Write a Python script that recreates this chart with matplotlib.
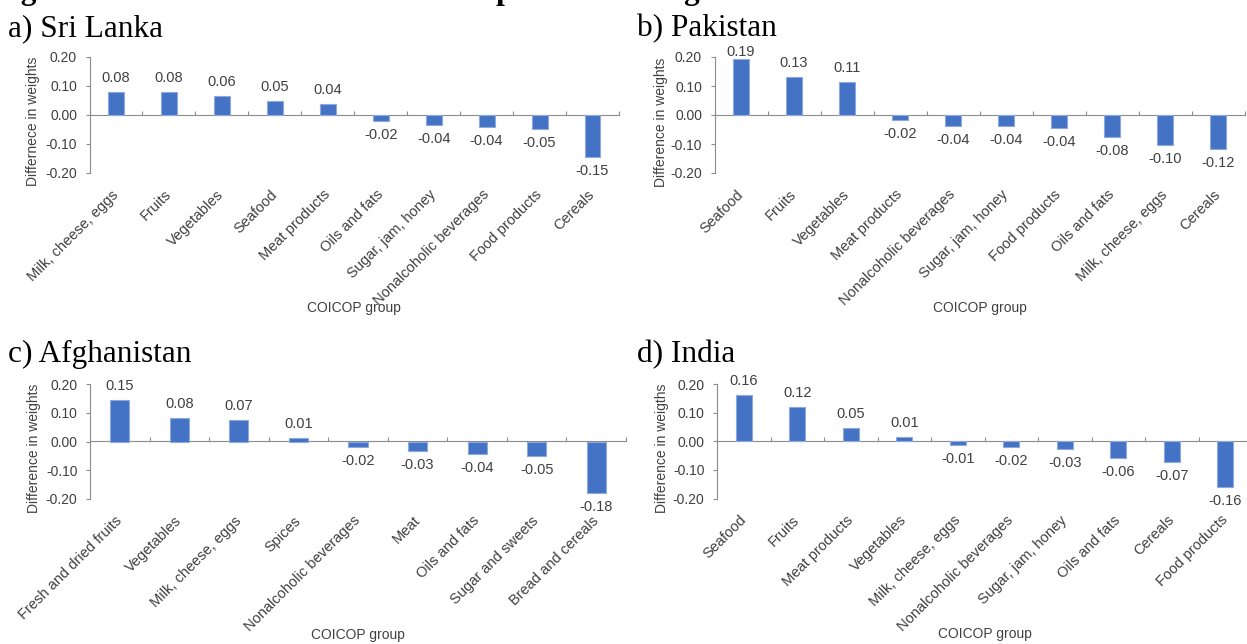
import matplotlib
matplotlib.use('Agg')
import matplotlib.pyplot as plt
from matplotlib.ticker import MultipleLocator, FormatStrFormatter

plt.rcParams['font.family'] = ['Liberation Sans', 'DejaVu Sans']

# a) Sri Lanka
lk_groups = ['Milk, cheese, eggs', 'Fruits', 'Vegetables', 'Seafood', 'Meat products',
             'Oils and fats', 'Sugar, jam, honey', 'Nonalcoholic beverages', 'Food products', 'Cereals']
lk_diff = [0.077, 0.077, 0.063, 0.046, 0.036, -0.020, -0.036, -0.043, -0.049, -0.146]

# b) Pakistan
pk_groups = ['Seafood', 'Fruits', 'Vegetables', 'Meat products', 'Nonalcoholic beverages',
             'Sugar, jam, honey', 'Food products', 'Oils and fats', 'Milk, cheese, eggs', 'Cereals']
pk_diff = [0.194, 0.131, 0.113, -0.016, -0.038, -0.038, -0.044, -0.076, -0.103, -0.116]

# c) Afghanistan
af_groups = ['Fresh and dried fruits', 'Vegetables', 'Milk, cheese, eggs', 'Spices',
             'Nonalcoholic beverages', 'Meat', 'Oils and fats', 'Sugar and sweets', 'Bread and cereals']
af_diff = [0.146, 0.083, 0.074, 0.012, -0.018, -0.032, -0.044, -0.051, -0.180]

# d) India
in_groups = ['Seafood', 'Fruits', 'Meat products', 'Vegetables', 'Milk, cheese, eggs',
             'Nonalcoholic beverages', 'Sugar, jam, honey', 'Oils and fats', 'Cereals', 'Food products']
in_diff = [0.163, 0.120, 0.047, 0.014, -0.012, -0.020, -0.026, -0.059, -0.074, -0.160]

BLUE = '#4472C4'
EDGE = '#8EA9DB'
GREY = '#8C8C8C'
TXT = '#404040'
FS = 10.5

W, H = 1247, 644
fig = plt.figure(figsize=(W / 100, H / 100), dpi=100)


def add_ax(left, top, right, bottom):
    return fig.add_axes([left / W, 1 - bottom / H, (right - left) / W, (bottom - top) / H])


def draw_panel(ax, groups, diff, ylabel, ylab_x, bar_w, xlab_y):
    n = len(groups)
    pos = list(range(n))
    ax.bar(pos, diff, width=bar_w, color=BLUE, edgecolor=EDGE, linewidth=0.8, zorder=3)
    for x, v in zip(pos, diff):
        # a label that would run past the top of the plot sits right on the bar
        pad = 0 if v > 0.18 else 5
        ax.annotate(f'{v:.2f}', (x, v), xytext=(0, pad if v >= 0 else -pad),
                    textcoords='offset points', ha='center',
                    va='bottom' if v >= 0 else 'top', fontsize=FS, color=TXT)

    ax.set_xlim(-0.5, n - 0.5)
    ax.set_ylim(-0.2, 0.2)
    for s in ['top', 'right', 'bottom']:
        ax.spines[s].set_visible(False)
    ax.spines['left'].set_color(GREY)
    ax.spines['left'].set_linewidth(0.8)

    ax.yaxis.set_major_locator(MultipleLocator(0.1))
    ax.yaxis.set_major_formatter(FormatStrFormatter('%.2f'))
    ax.tick_params(axis='y', length=3, width=0.8, color=GREY, pad=6, labelsize=10, labelcolor=TXT)

    ax.set_xticks(pos)
    ax.set_xticklabels(groups, rotation=45, ha='right', va='center', rotation_mode='anchor')
    ax.tick_params(axis='x', length=0, pad=14, labelsize=FS, labelcolor=TXT)

    # category axis drawn at zero, with ticks between the categories
    zero = ax.secondary_xaxis(0.5)
    zero.set_xticks([i - 0.5 for i in range(n + 1)])
    zero.set_xticklabels([])
    zero.tick_params(axis='x', direction='out', length=3, width=0.8, color=GREY)
    for s in ['top', 'bottom']:
        zero.spines[s].set_color(GREY)
        zero.spines[s].set_linewidth(0.8)

    ax.set_ylabel(ylabel, fontsize=10, color=TXT)
    ax.yaxis.set_label_coords(ylab_x, 0.44)
    ax.set_xlabel('COICOP group', fontsize=10, color=TXT)
    ax.xaxis.set_label_coords(0.5, xlab_y)


ax_a = add_ax(89.5, 56.5, 619, 173)
ax_b = add_ax(714.5, 57, 1244.5, 173)
ax_c = add_ax(90, 384, 626, 499)
ax_d = add_ax(717, 384, 1252, 498.5)

draw_panel(ax_a, lk_groups, lk_diff, 'Differnece in weights', -0.094, 0.3, -1.10)
draw_panel(ax_b, pk_groups, pk_diff, 'Difference in weights', -0.088, 0.3, -1.10)
draw_panel(ax_c, af_groups, af_diff, 'Difference in weights', -0.091, 0.32, -1.12)
draw_panel(ax_d, in_groups, in_diff, 'Difference in weigths', -0.09, 0.3, -1.12)

serif = ['Liberation Serif', 'DejaVu Serif']
fig.text(8 / W, 1 - 36 / H, 'a) Sri Lanka', family=serif, fontsize=22.5, va='baseline')
fig.text(637 / W, 1 - 36 / H, 'b) Pakistan', family=serif, fontsize=22.5, va='baseline')
fig.text(8 / W, 1 - 362 / H, 'c) Afghanistan', family=serif, fontsize=22.5, va='baseline')
fig.text(637 / W, 1 - 362 / H, 'd) India', family=serif, fontsize=22.5, va='baseline')

# figure caption, mostly cut off by the top edge as in the source page
fig.text(-7 / W, 1 + 1.5 / H, 'Figure 3: Difference in food use: Comparison of weights',
         family=serif, fontsize=22.5, fontweight='bold', va='baseline')

fig.savefig('out.png', dpi=100)
